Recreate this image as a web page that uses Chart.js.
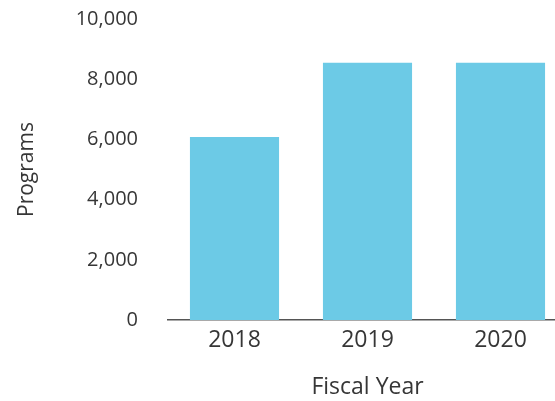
<!DOCTYPE html>
<html>
<head>
<meta charset="utf-8">
<script src="https://cdn.jsdelivr.net/npm/chart.js@4/dist/chart.umd.min.js"></script>
<style>
html,body{margin:0;padding:0;background:#fff;overflow:hidden;width:555px;height:401px;}
#wrap{position:absolute;left:0;top:0;width:580px;height:401px;}
</style>
</head>
<body>
<div id="wrap"><canvas id="c" width="580" height="401"></canvas></div>
<script>
const categories = ["2018", "2019", "2020"];
const programs = [6080, 8550, 8550];
const yTicks = [0, 2000, 4000, 6000, 8000, 10000];

const FONT = "'Open Sans', 'Noto Sans', sans-serif";
const TXT = "#363636";

new Chart(document.getElementById('c'), {
  type: 'bar',
  data: {
    labels: categories,
    datasets: [{
      data: programs,
      backgroundColor: '#6ccae6',
      borderWidth: 0,
      categoryPercentage: 1.0,
      barPercentage: 0.67
    }]
  },
  options: {
    responsive: false,
    animation: false,
    devicePixelRatio: 1,
    layout: { padding: { top: 19, right: 13, left: 0, bottom: 0 } },
    plugins: { legend: { display: false }, tooltip: { enabled: false } },
    scales: {
      x: {
        grid: { display: false, drawTicks: false },
        border: { display: true, color: '#555', width: 1.5 },
        ticks: { color: TXT, font: { family: FONT, size: 23 }, padding: 7 },
        title: { display: true, text: 'Fiscal Year', color: TXT, font: { family: FONT, size: 23 }, padding: { top: 3, bottom: 0 } },
        afterFit: s => { s.height = 81; }
      },
      y: {
        min: 0, max: 10000,
        afterBuildTicks: s => { s.ticks = yTicks.map(v => ({ value: v })); },
        grid: { display: false, drawTicks: false },
        border: { display: false },
        ticks: {
          color: TXT, font: { family: FONT, size: 20 }, padding: 30,
          callback: v => v.toLocaleString('en-US')
        },
        title: { display: true, text: 'Programs', color: TXT, font: { family: FONT, size: 21 }, padding: { top: 14, bottom: 0 } },
        afterFit: s => { s.width = 168; s.paddingTop = 0; s.paddingBottom = 0; }
      }
    }
  }
});
</script>
</body>
</html>
